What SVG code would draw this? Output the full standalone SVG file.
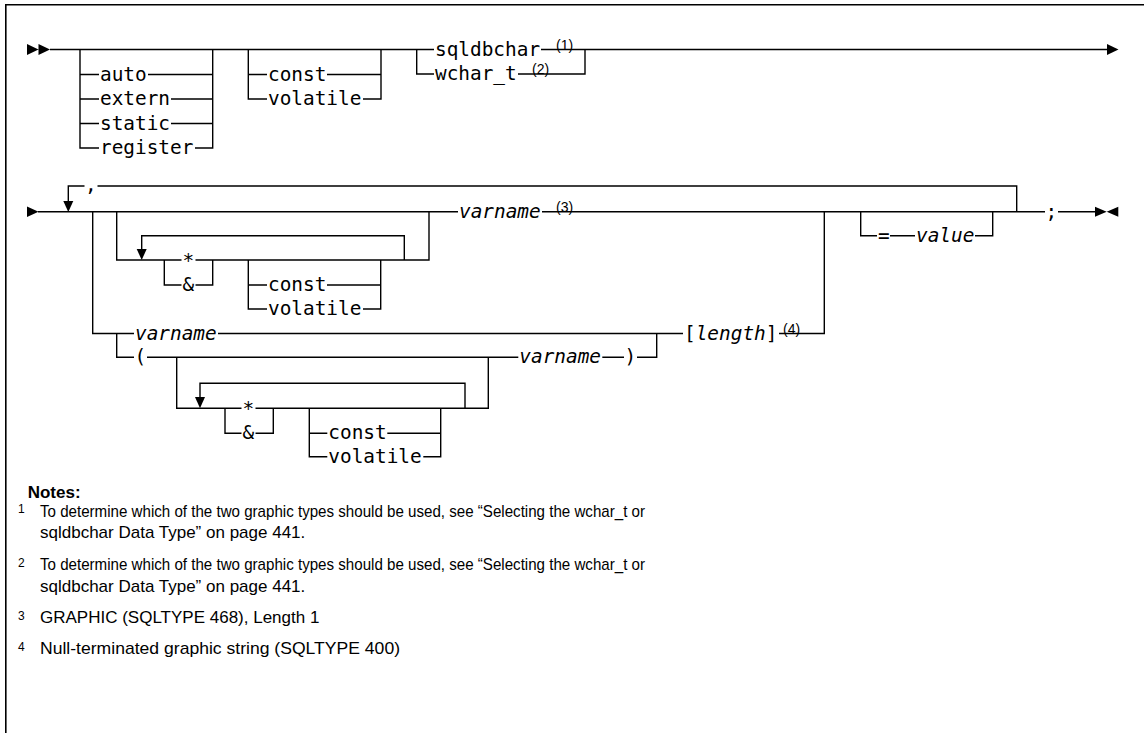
<svg xmlns="http://www.w3.org/2000/svg" width="1144" height="733" viewBox="0 0 1144 733">
  <style>
    .ln { stroke:#000; stroke-width:1.4; fill:none; }
    .frame { stroke:#000; stroke-width:1.6; fill:none; }
    .arr { fill:#000; stroke:none; }
    .bg { fill:#fff; stroke:none; }
    .kw { font-family:"DejaVu Sans Mono", "Liberation Mono", monospace; font-size:19.4px; fill:#000; }
    .it { font-style:italic; }
    .sup { font-family:"Liberation Sans", Arial, sans-serif; font-size:14px; fill:#000; }
    .nh { font-family:"Liberation Sans", Arial, sans-serif; font-size:17px; font-weight:bold; fill:#000; }
    .nt { font-family:"Liberation Sans", Arial, sans-serif; font-size:17px; fill:#000; }
    .nn { font-family:"Liberation Sans", Arial, sans-serif; font-size:12px; fill:#000; }
  </style>
  <rect width="1144" height="733" fill="#fff"/>

  <!-- page frame (top and left rules) -->
  <path class="frame" d="M5.8 733 V4.7 H1144"/>

  <!-- connectors -->
  <g id="connectors">
    <!-- declaration: storage class, qualifier, type -->
    <path class="ln" d="M50 49.5 H1107"/>
    <path class="ln" d="M80 49.5 V148 H212.7 V49.5 M80 74.5 H212.7 M80 99 H212.7 M80 123.5 H212.7"/>
    <path class="ln" d="M248.3 49.5 V99 H381 V49.5 M248.3 74.5 H381"/>
    <path class="ln" d="M416.7 49.5 V74 H585 V49.5"/>
    <path class="arr" d="M27 44 L38.5 49.5 L27 55 Z M38.5 44 L50 49.5 L38.5 55 Z"/>
    <path class="arr" d="M1107 44 L1118.5 49.5 L1107 55 Z"/>

    <!-- declarator list -->
    <path class="ln" d="M38 211.7 H1095"/>
    <path class="arr" d="M27 206.5 L38.5 211.7 L27 217 Z"/>
    <path class="ln" d="M68.3 201 V186 H1016.7 V211.7"/>
    <path class="arr" d="M63.3 201 L73.3 201 L68.3 212 Z"/>

    <path class="ln" d="M92.7 211.7 V333.5 H824.3 V211.7"/>
    <path class="ln" d="M116.7 211.7 V260 H429 V211.7"/>
    <path class="ln" d="M141.7 249 V235.7 H404.3 V260"/>
    <path class="arr" d="M136.7 249 L146.7 249 L141.7 260 Z"/>
    <path class="ln" d="M164.3 260 V285 H212.7 V260"/>
    <path class="ln" d="M248.3 260 V309 H380.7 V260 M248.3 285 H380.7"/>

    <path class="ln" d="M116.7 333.5 V357.3 H656.7 V333.5"/>
    <path class="ln" d="M176.7 357.3 V408.3 H488.3 V357.3"/>
    <path class="ln" d="M200 397 V383.3 H465 V408.3"/>
    <path class="arr" d="M195 397 L205 397 L200 408.3 Z"/>
    <path class="ln" d="M225 408.3 V433.3 H273.3 V408.3"/>
    <path class="ln" d="M309.3 408.3 V456.7 H440.7 V408.3 M309.3 433.3 H440.7"/>

    <path class="ln" d="M860.7 211.7 V235.7 H992.7 V211.7"/>
    <path class="arr" d="M1095 206.7 L1106.7 211.7 L1095 216.7 Z M1118.3 206.7 L1106.7 211.7 L1118.3 216.7 Z"/>
  </g>

  <!-- storage class -->
  <g id="kw-auto"><rect class="bg" x="99" y="66.5" width="49" height="16"/><text class="kw" x="100" y="80.5">auto</text></g>
  <g id="kw-extern"><rect class="bg" x="99" y="91" width="72" height="16"/><text class="kw" x="100" y="105">extern</text></g>
  <g id="kw-static"><rect class="bg" x="99" y="115.5" width="72" height="16"/><text class="kw" x="100" y="129.5">static</text></g>
  <g id="kw-register"><rect class="bg" x="99" y="140" width="96" height="16"/><text class="kw" x="100" y="154">register</text></g>

  <!-- qualifiers -->
  <g id="kw-const-1"><rect class="bg" x="267" y="66.5" width="60" height="16"/><text class="kw" x="268" y="80.5">const</text></g>
  <g id="kw-volatile-1"><rect class="bg" x="267" y="91" width="96" height="16"/><text class="kw" x="268" y="105">volatile</text></g>

  <!-- graphic types -->
  <g id="kw-sqldbchar"><rect class="bg" x="434" y="41.5" width="107" height="16"/><text class="kw" x="435" y="55.5">sqldbchar</text><text class="sup" x="556" y="49.5">(1)</text></g>
  <g id="kw-wchar_t"><rect class="bg" x="434" y="66" width="84" height="16"/><text class="kw" x="435" y="80">wchar_t</text><text class="sup" x="532" y="74">(2)</text></g>

  <!-- repeat separator -->
  <g id="sep-comma"><rect class="bg" x="84.5" y="178" width="13" height="16"/><text class="kw" x="85" y="191">,</text></g>

  <!-- pointer prefix, first form -->
  <g id="op-star-1"><rect class="bg" x="181.5" y="252" width="14" height="14"/><text class="kw" x="182.5" y="266.5">*</text></g>
  <g id="op-amp-1"><rect class="bg" x="181.5" y="277" width="14" height="16"/><text class="kw" x="182.5" y="291">&amp;</text></g>
  <g id="kw-const-2"><rect class="bg" x="267" y="277" width="60" height="16"/><text class="kw" x="268" y="291">const</text></g>
  <g id="kw-volatile-2"><rect class="bg" x="267" y="301" width="96" height="16"/><text class="kw" x="268" y="315">volatile</text></g>
  <g id="var-varname-1"><rect class="bg" x="458" y="203.7" width="84" height="16"/><text class="kw it" x="459" y="217.7">varname</text><text class="sup" x="556" y="211.7">(3)</text></g>

  <!-- array forms -->
  <g id="var-varname-2"><rect class="bg" x="134" y="325.5" width="84" height="16"/><text class="kw it" x="135" y="339.5">varname</text></g>
  <g id="var-length"><rect class="bg" x="683" y="325.5" width="96" height="16"/><text class="kw" x="684" y="339.5">[<tspan class="it">length</tspan>]</text><text class="sup" x="783" y="333.5">(4)</text></g>
  <g id="op-lparen"><rect class="bg" x="134" y="349.3" width="13" height="16"/><text class="kw" x="134.5" y="363.3">(</text></g>
  <g id="var-varname-3"><rect class="bg" x="518.3" y="349.3" width="84" height="16"/><text class="kw it" x="519.3" y="363.3">varname</text></g>
  <g id="op-rparen"><rect class="bg" x="624" y="349.3" width="13" height="16"/><text class="kw" x="624.5" y="363.3">)</text></g>

  <!-- pointer prefix, second form -->
  <g id="op-star-2"><rect class="bg" x="241.5" y="400.3" width="14" height="14"/><text class="kw" x="242.5" y="414.8">*</text></g>
  <g id="op-amp-2"><rect class="bg" x="241.5" y="425.3" width="14" height="16"/><text class="kw" x="242.5" y="439.3">&amp;</text></g>
  <g id="kw-const-3"><rect class="bg" x="327.3" y="425.3" width="60" height="16"/><text class="kw" x="328.3" y="439.3">const</text></g>
  <g id="kw-volatile-3"><rect class="bg" x="327.3" y="448.7" width="96" height="16"/><text class="kw" x="328.3" y="462.7">volatile</text></g>

  <!-- initializer and terminator -->
  <g id="op-eq"><rect class="bg" x="877" y="227.7" width="13" height="16"/><text class="kw" x="878" y="241.7">=</text></g>
  <g id="var-value"><rect class="bg" x="915" y="227.7" width="60" height="16"/><text class="kw it" x="916" y="241.7">value</text></g>
  <g id="op-semicolon"><rect class="bg" x="1045" y="203.7" width="13" height="16"/><text class="kw" x="1045.5" y="217.7">;</text></g>

  <!-- footnotes -->
  <g id="notes">
    <text class="nh" x="27.7" y="497.5">Notes:</text>
    <text class="nn" x="18" y="513">1</text>
    <text class="nt" x="40" y="516.7" textLength="605" lengthAdjust="spacingAndGlyphs">To determine which of the two graphic types should be used, see “Selecting the wchar_t or</text>
    <text class="nt" x="40" y="538">sqldbchar Data Type” on page 441.</text>
    <text class="nn" x="18" y="566.5">2</text>
    <text class="nt" x="40" y="570" textLength="605" lengthAdjust="spacingAndGlyphs">To determine which of the two graphic types should be used, see “Selecting the wchar_t or</text>
    <text class="nt" x="40" y="591.7">sqldbchar Data Type” on page 441.</text>
    <text class="nn" x="18" y="619.5">3</text>
    <text class="nt" x="40" y="623">GRAPHIC (SQLTYPE 468), Length 1</text>
    <text class="nn" x="18" y="650.5">4</text>
    <text class="nt" x="40" y="654" textLength="360" lengthAdjust="spacingAndGlyphs">Null-terminated graphic string (SQLTYPE 400)</text>
  </g>
</svg>
